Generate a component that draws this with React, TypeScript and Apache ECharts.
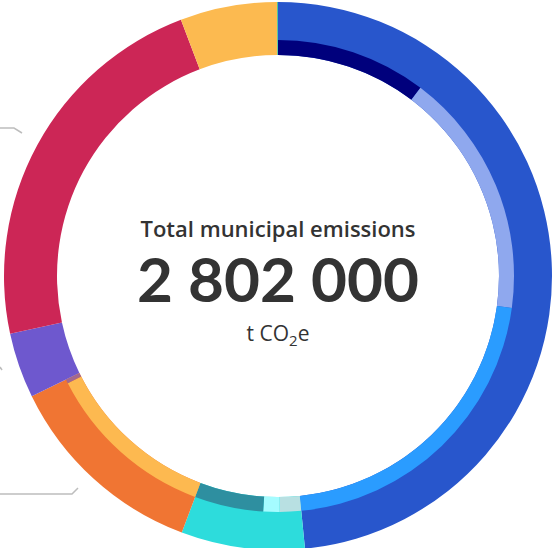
import React, { useEffect, useRef } from "react";
import * as echarts from "echarts";

// Main categories (outer ring), t CO2e
const categoryNames = ["Transport", "Waste", "Industry", "Agriculture", "Buildings", "Energy", "Other"];
const categoryValues = [1357000, 204000, 338000, 108000, 633500, 160000, 1500];
const categoryColors = ["#2856CC", "#2DDCDC", "#F07533", "#6E58CE", "#CC2656", "#FCBA50", "#3FBF8F"];

// Sub-breakdown (inner band); null colour = no breakdown shown
const subNames = ["Road", "Aviation", "Rail & other", "Landfill", "Compost", "Wastewater", "Process", "Other industry", "Agriculture", "Buildings", "Energy", "Other"];
const subValues = [289000, 472000, 596000, 41000, 31000, 132000, 330000, 8000, 108000, 633500, 160000, 1500];
const subColors = ["#00007C", "#8FA8EE", "#2A9CFF", "#B8E0E2", "#A5FCFF", "#2E8FA0", "#FDB950", "#A2688F", null, null, null, null];

const totalLabel = "Total municipal emissions";
const totalValue = "2 802 000";

export default function App() {
  const ref = useRef<HTMLDivElement>(null);
  useEffect(() => {
    const chart = echarts.init(ref.current!, null, { renderer: "svg" });
    const center = [278, 276];
    chart.setOption({
      animation: false,
      tooltip: { show: false },
      series: [
        {
          type: "pie",
          center,
          radius: [221, 274],
          startAngle: 90,
          clockwise: true,
          silent: true,
          label: { show: false },
          labelLine: { show: false },
          itemStyle: { borderWidth: 0 },
          emphasis: { disabled: true },
          data: categoryNames.map((n, i) => ({
            name: n,
            value: categoryValues[i],
            itemStyle: { color: categoryColors[i] },
          })),
        },
        {
          type: "pie",
          center,
          radius: [221, 236],
          startAngle: 90,
          clockwise: true,
          silent: true,
          z: 3,
          label: { show: false },
          labelLine: { show: false },
          itemStyle: { borderWidth: 0 },
          emphasis: { disabled: true },
          data: subNames.map((n, i) => ({
            name: n,
            value: subValues[i],
            itemStyle: { color: subColors[i] ?? "rgba(0,0,0,0)" },
          })),
        },
      ],
      graphic: [
        {
          type: "polyline",
          shape: { points: [[0, 128], [14, 128], [22, 133]] },
          style: { stroke: "#BDBDBD", lineWidth: 1.5, fill: null },
        },
        {
          type: "polyline",
          shape: { points: [[0, 494], [72, 494], [78, 488]] },
          style: { stroke: "#BDBDBD", lineWidth: 1.5, fill: null },
        },
        {
          type: "line",
          shape: { x1: 0, y1: 367, x2: 2, y2: 370 },
          style: { stroke: "#BDBDBD", lineWidth: 1.5 },
        },
        {
          type: "text",
          x: 278,
          y: 228,
          style: {
            text: totalLabel,
            fontFamily: "Open Sans",
            fontWeight: 600,
            fontSize: 22,
            lineHeight: 22,
            fill: "#333333",
            textAlign: "center",
            textVerticalAlign: "middle",
          },
        },
        {
          type: "text",
          x: 278,
          y: 278,
          style: {
            text: totalValue,
            fontFamily: "Lato",
            fontWeight: 700,
            fontSize: 62,
            lineHeight: 50,
            fill: "#333333",
            textAlign: "center",
            textVerticalAlign: "middle",
          },
        },
        {
          type: "text",
          x: 278,
          y: 333,
          style: {
            text: "t CO{sub|2}e",
            fontFamily: "Open Sans",
            fontWeight: 500,
            fontSize: 21,
            fill: "#333333",
            textAlign: "center",
            textVerticalAlign: "middle",
            rich: {
              sub: {
                fontFamily: "Open Sans",
                fontWeight: 500,
                fontSize: 15,
                fill: "#333333",
                padding: [14, 0, 0, 0],
              },
            },
          },
        },
      ],
    });
    return () => chart.dispose();
  }, []);
  return (
    <div
      ref={ref}
      style={{ position: "absolute", left: 0, top: 0, width: 553, height: 548 }}
    />
  );
}
